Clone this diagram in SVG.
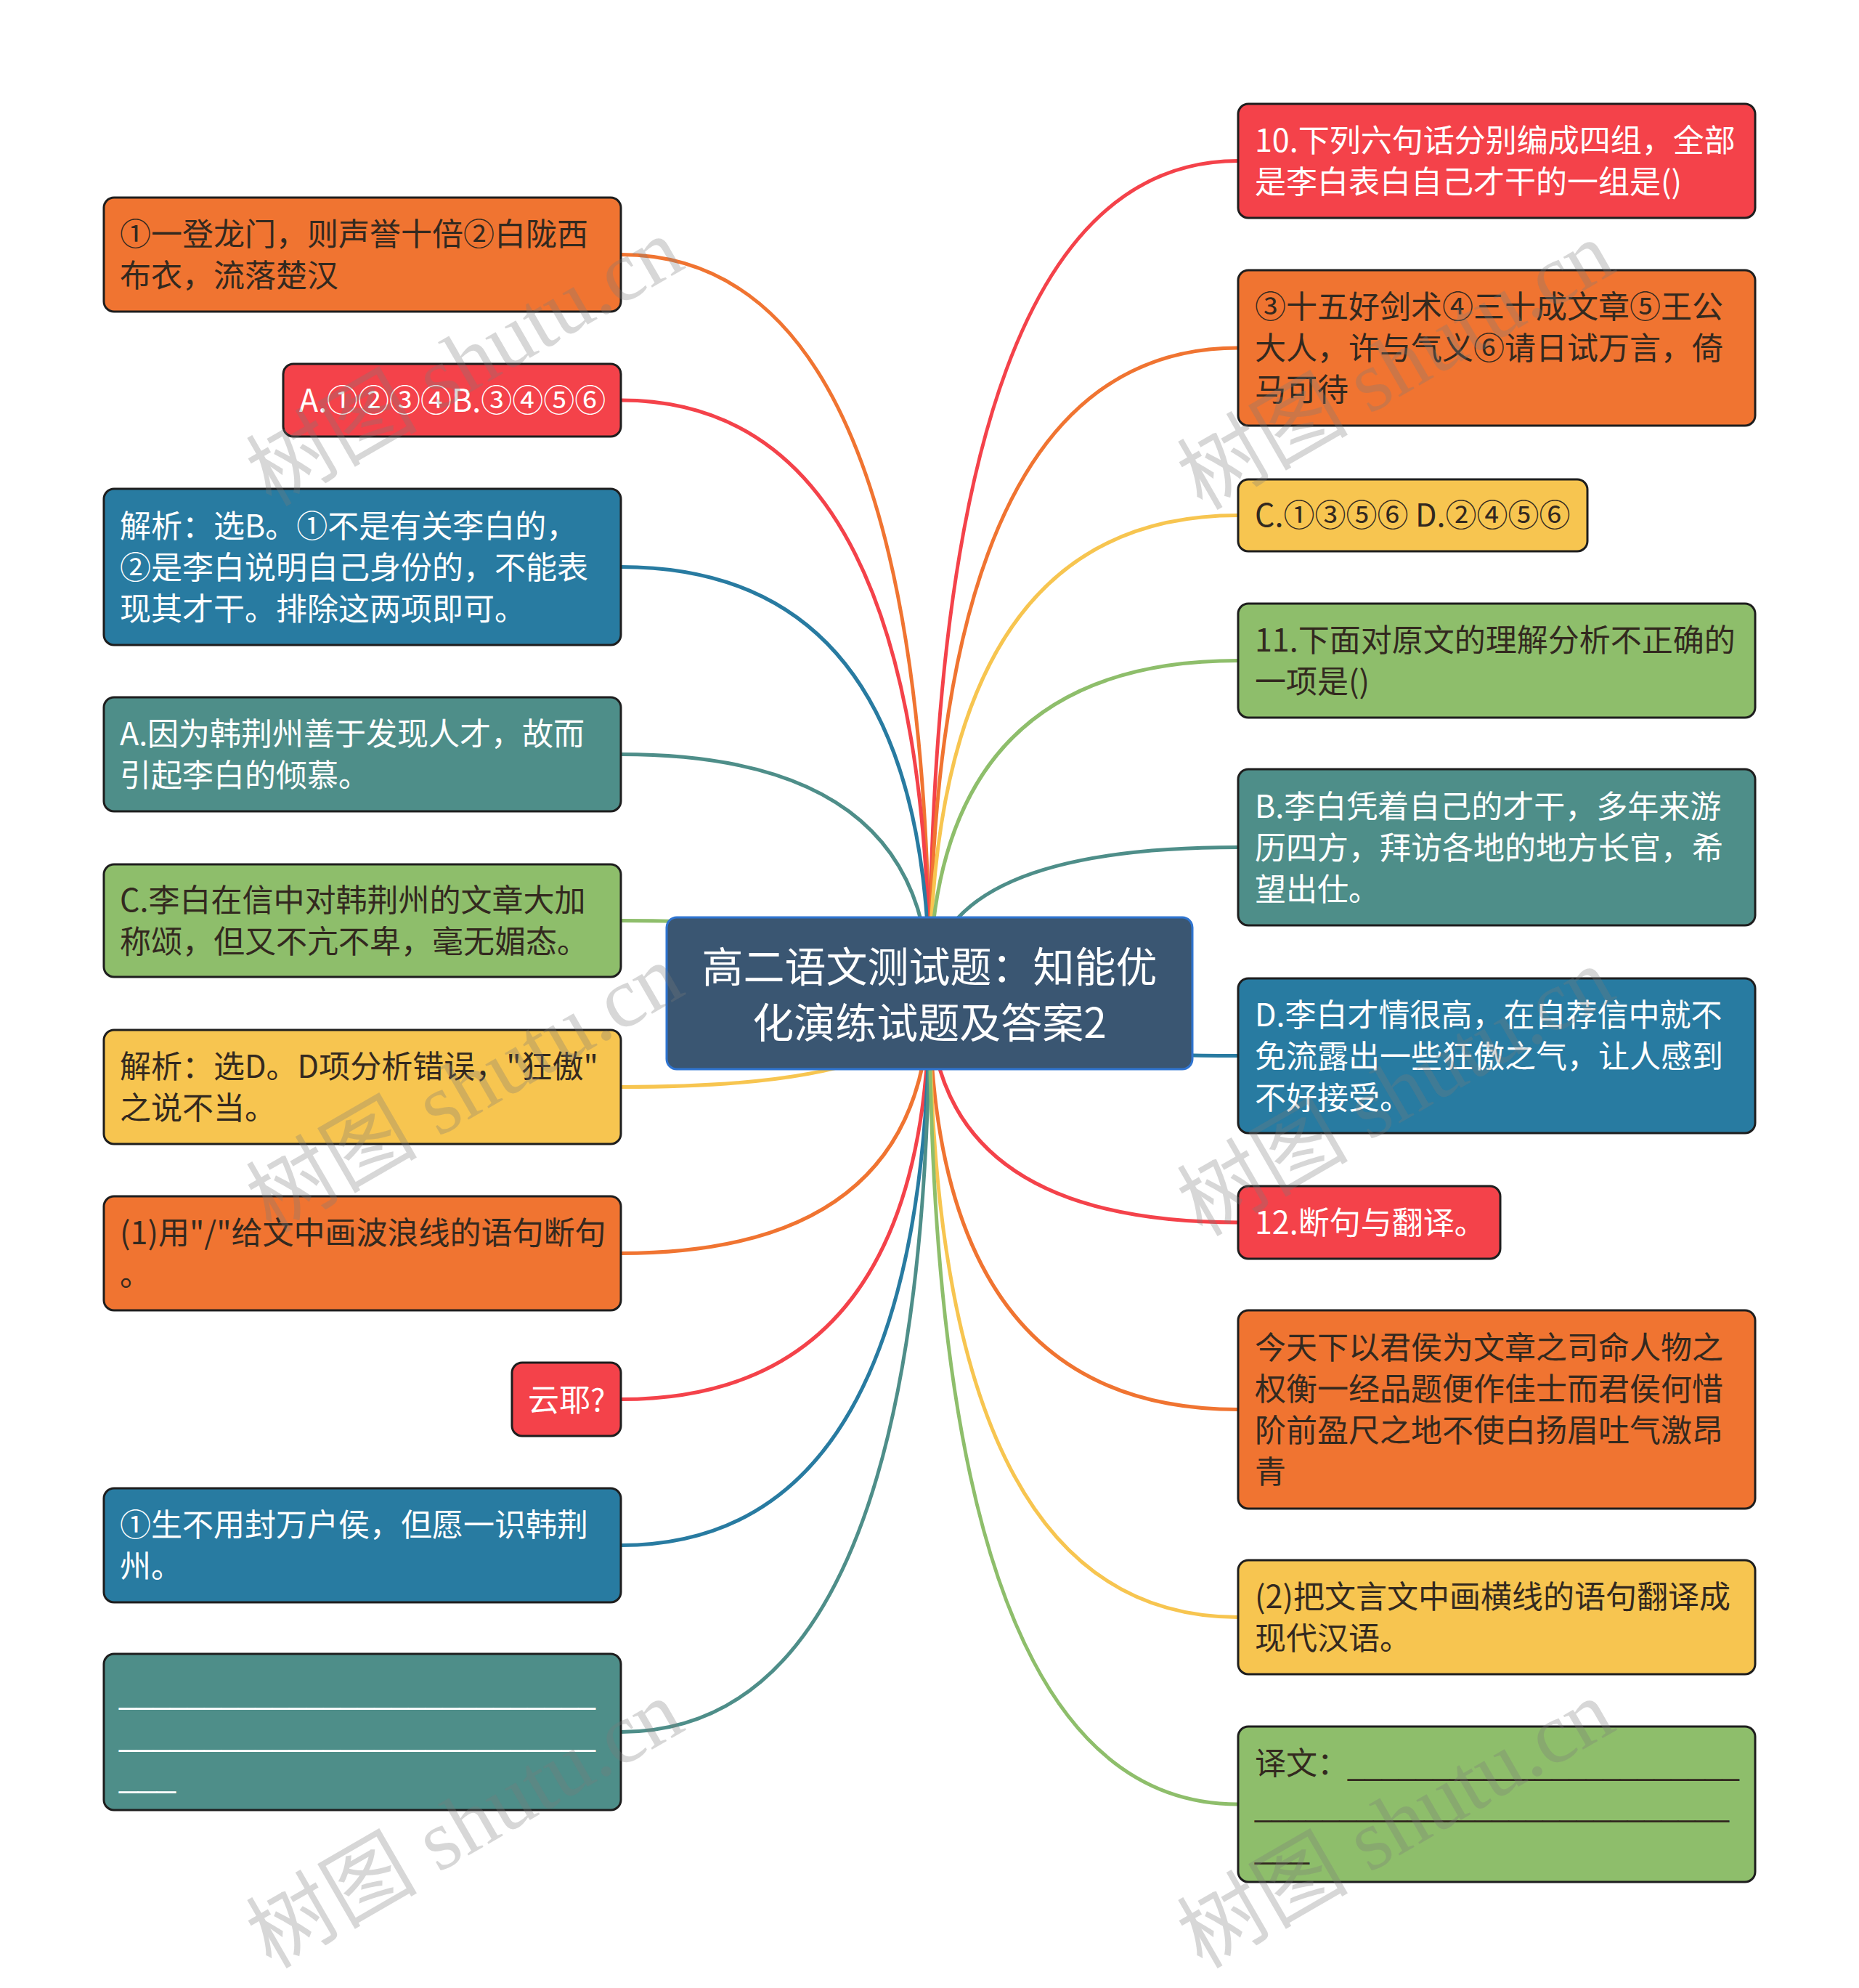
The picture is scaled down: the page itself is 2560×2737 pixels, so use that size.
<svg xmlns="http://www.w3.org/2000/svg" width="2560" height="2737" viewBox="0 0 2560 2737">
<defs>
<style>
.n rect{stroke:#1e1e1e;stroke-width:3}
.t{font-family:"Noto Sans CJK SC","Noto Sans",sans-serif;font-size:43px}
.u{font-family:"Liberation Sans",Arial,sans-serif;font-size:43px}
.w{fill:#ffffff}
.d{fill:#33291f}
.e path{fill:none;stroke-width:5;stroke-linecap:round}
.wm{font-family:"Liberation Serif","Noto Sans CJK SC",serif;font-size:118px;fill:#7a7a7a;fill-opacity:0.3}
</style>
</defs>
<rect width="2560" height="2737" fill="#ffffff"/>
<g id="connectors" class="e">
<path d="M1280 1367 Q1280 350.5 855 350.5" stroke="#F07431"/>
<path d="M1280 1367 Q1280 551 855 551" stroke="#F4424A"/>
<path d="M1280 1367 Q1280 780.5 855 780.5" stroke="#287BA1"/>
<path d="M1280 1367 Q1280 1038.5 855 1038.5" stroke="#4E8E89"/>
<path d="M1280 1367 Q1280 1267.5 855 1267.5" stroke="#8EBE6B"/>
<path d="M1280 1367 Q1280 1496.5 855 1496.5" stroke="#F7C550"/>
<path d="M1280 1367 Q1280 1725.5 855 1725.5" stroke="#F07431"/>
<path d="M1280 1367 Q1280 1926.5 855 1926.5" stroke="#F4424A"/>
<path d="M1280 1367 Q1280 2127.5 855 2127.5" stroke="#287BA1"/>
<path d="M1280 1367 Q1280 2384.5 855 2384.5" stroke="#4E8E89"/>
<path d="M1280 1367 Q1280 221.5 1705 221.5" stroke="#F4424A"/>
<path d="M1280 1367 Q1280 479 1705 479" stroke="#F07431"/>
<path d="M1280 1367 Q1280 709.5 1705 709.5" stroke="#F7C550"/>
<path d="M1280 1367 Q1280 909.5 1705 909.5" stroke="#8EBE6B"/>
<path d="M1280 1367 Q1280 1166.5 1705 1166.5" stroke="#4E8E89"/>
<path d="M1280 1367 Q1280 1453.5 1705 1453.5" stroke="#287BA1"/>
<path d="M1280 1367 Q1280 1683 1705 1683" stroke="#F4424A"/>
<path d="M1280 1367 Q1280 1940.5 1705 1940.5" stroke="#F07431"/>
<path d="M1280 1367 Q1280 2226.5 1705 2226.5" stroke="#F7C550"/>
<path d="M1280 1367 Q1280 2484 1705 2484" stroke="#8EBE6B"/>
</g>

<g id="root">
<rect x="918" y="1263" width="724" height="209" rx="14" fill="#3A5672" stroke="#2F74D0" stroke-width="3"/>
<text x="1280" y="1352" text-anchor="middle" font-family="Noto Sans CJK SC,sans-serif" font-size="57" fill="#ffffff">高二语文测试题：知能优</text>
<text x="1280" y="1429" text-anchor="middle" font-family="Noto Sans CJK SC,sans-serif" font-size="57" fill="#ffffff">化演练试题及答案2</text>
</g>

<g id="L1" class="n"><rect x="143" y="272" width="712" height="157" rx="14" fill="#F07431"/>
<text class="t d" x="165" y="338">①一登龙门，则声誉十倍②白陇西</text>
<text class="t d" x="165" y="395">布衣，流落楚汉</text></g>

<g id="L2" class="n"><rect x="390" y="501" width="465" height="100" rx="14" fill="#F4424A"/>
<text class="t w" x="412" y="567">A.①②③④B.③④⑤⑥</text></g>

<g id="L3" class="n"><rect x="143" y="673" width="712" height="215" rx="14" fill="#287BA1"/>
<text class="t w" x="165" y="740">解析：选B。①不是有关李白的，</text>
<text class="t w" x="165" y="797">②是李白说明自己身份的，不能表</text>
<text class="t w" x="165" y="854">现其才干。排除这两项即可。</text></g>

<g id="L4" class="n"><rect x="143" y="960" width="712" height="157" rx="14" fill="#4E8E89"/>
<text class="t w" x="165" y="1026">A.因为韩荆州善于发现人才，故而</text>
<text class="t w" x="165" y="1083">引起李白的倾慕。</text></g>

<g id="L5" class="n"><rect x="143" y="1190" width="712" height="155" rx="14" fill="#8EBE6B"/>
<text class="t d" x="165" y="1255">C.李白在信中对韩荆州的文章大加</text>
<text class="t d" x="165" y="1312">称颂，但又不亢不卑，毫无媚态。</text></g>

<g id="L6" class="n"><rect x="143" y="1418" width="712" height="157" rx="14" fill="#F7C550"/>
<text class="t d" x="165" y="1484">解析：选D。D项分析错误，"狂傲"</text>
<text class="t d" x="165" y="1541">之说不当。</text></g>

<g id="L7" class="n"><rect x="143" y="1647" width="712" height="157" rx="14" fill="#F07431"/>
<text class="t d" x="165" y="1713">(1)用"/"给文中画波浪线的语句断句</text>
<text class="t d" x="165" y="1770">。</text></g>

<g id="L8" class="n"><rect x="705" y="1876" width="150" height="101" rx="14" fill="#F4424A"/>
<text class="t w" x="727" y="1943">云耶?</text></g>

<g id="L9" class="n"><rect x="143" y="2049" width="712" height="157" rx="14" fill="#287BA1"/>
<text class="t w" x="165" y="2115">①生不用封万户侯，但愿一识韩荆</text>
<text class="t w" x="165" y="2172">州。</text></g>

<g id="L10" class="n"><rect x="143" y="2277" width="712" height="215" rx="14" fill="#4E8E89"/>
<text class="u w" x="164" y="2346" textLength="656" lengthAdjust="spacingAndGlyphs">____________________________</text>
<text class="u w" x="164" y="2404" textLength="656" lengthAdjust="spacingAndGlyphs">____________________________</text>
<text class="u w" x="164" y="2461" textLength="78" lengthAdjust="spacingAndGlyphs">___</text></g>

<g id="R1" class="n"><rect x="1705" y="143" width="712" height="157" rx="14" fill="#F4424A"/>
<text class="t w" x="1728" y="209">10.下列六句话分别编成四组，全部</text>
<text class="t w" x="1728" y="266">是李白表白自己才干的一组是()</text></g>

<g id="R2" class="n"><rect x="1705" y="372" width="712" height="214" rx="14" fill="#F07431"/>
<text class="t d" x="1728" y="438">③十五好剑术④三十成文章⑤王公</text>
<text class="t d" x="1728" y="495">大人，许与气义⑥请日试万言，倚</text>
<text class="t d" x="1728" y="552">马可待</text></g>

<g id="R3" class="n"><rect x="1705" y="660" width="481" height="99" rx="14" fill="#F7C550"/>
<text class="t d" x="1728" y="725">C.①③⑤⑥ D.②④⑤⑥</text></g>

<g id="R4" class="n"><rect x="1705" y="831" width="712" height="157" rx="14" fill="#8EBE6B"/>
<text class="t d" x="1728" y="897">11.下面对原文的理解分析不正确的</text>
<text class="t d" x="1728" y="954">一项是()</text></g>

<g id="R5" class="n"><rect x="1705" y="1059" width="712" height="215" rx="14" fill="#4E8E89"/>
<text class="t w" x="1728" y="1126">B.李白凭着自己的才干，多年来游</text>
<text class="t w" x="1728" y="1183">历四方，拜访各地的地方长官，希</text>
<text class="t w" x="1728" y="1240">望出仕。</text></g>

<g id="R6" class="n"><rect x="1705" y="1347" width="712" height="213" rx="14" fill="#287BA1"/>
<text class="t w" x="1728" y="1413">D.李白才情很高，在自荐信中就不</text>
<text class="t w" x="1728" y="1470">免流露出一些狂傲之气，让人感到</text>
<text class="t w" x="1728" y="1527">不好接受。</text></g>

<g id="R7" class="n"><rect x="1705" y="1633" width="361" height="100" rx="14" fill="#F4424A"/>
<text class="t w" x="1728" y="1699">12.断句与翻译。</text></g>

<g id="R8" class="n"><rect x="1705" y="1804" width="712" height="273" rx="14" fill="#F07431"/>
<text class="t d" x="1728" y="1871">今天下以君侯为文章之司命人物之</text>
<text class="t d" x="1728" y="1928">权衡一经品题便作佳士而君侯何惜</text>
<text class="t d" x="1728" y="1985">阶前盈尺之地不使白扬眉吐气激昂</text>
<text class="t d" x="1728" y="2042">青</text></g>

<g id="R9" class="n"><rect x="1705" y="2148" width="712" height="157" rx="14" fill="#F7C550"/>
<text class="t d" x="1728" y="2214">(2)把文言文中画横线的语句翻译成</text>
<text class="t d" x="1728" y="2271">现代汉语。</text></g>

<g id="R10" class="n"><rect x="1705" y="2377" width="712" height="214" rx="14" fill="#8EBE6B"/>
<text class="t d" x="1728" y="2443">译文：</text>
<text class="u d" x="1856" y="2444" textLength="539" lengthAdjust="spacingAndGlyphs">_______________________</text>
<text class="u d" x="1728" y="2501" textLength="653" lengthAdjust="spacingAndGlyphs">____________________________</text>
<text class="u d" x="1728" y="2559" textLength="75" lengthAdjust="spacingAndGlyphs">___</text></g>

<g id="watermarks">
<text class="wm" text-anchor="middle" transform="translate(641 500) rotate(-30)" y="38">树图 shutu.cn</text>
<text class="wm" text-anchor="middle" transform="translate(1923 505) rotate(-30)" y="38">树图 shutu.cn</text>
<text class="wm" text-anchor="middle" transform="translate(641 1500) rotate(-30)" y="38">树图 shutu.cn</text>
<text class="wm" text-anchor="middle" transform="translate(1923 1505) rotate(-30)" y="38">树图 shutu.cn</text>
<text class="wm" text-anchor="middle" transform="translate(641 2513) rotate(-30)" y="38">树图 shutu.cn</text>
<text class="wm" text-anchor="middle" transform="translate(1923 2513) rotate(-30)" y="38">树图 shutu.cn</text>
</g>
</svg>
